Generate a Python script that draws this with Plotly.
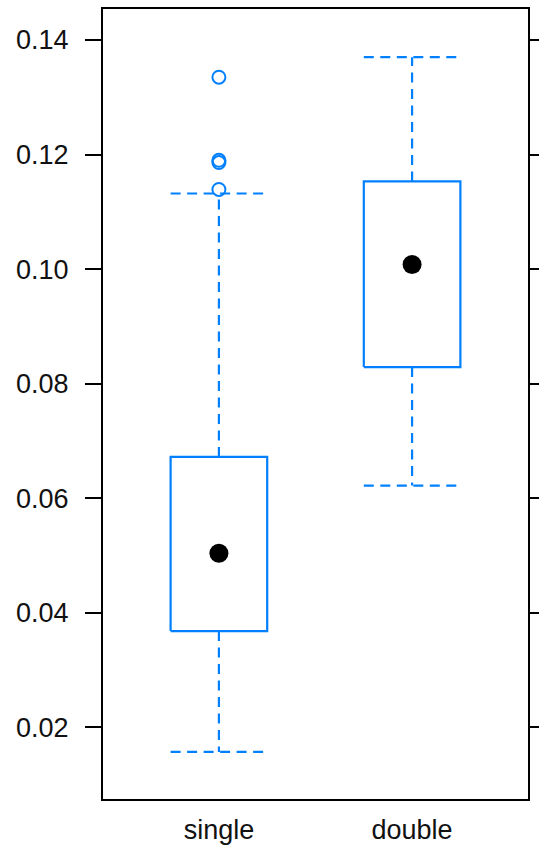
import plotly.graph_objects as go

# Summary statistics per group (box-and-whisker)
categories = ["single", "double"]
lower_whisker = [0.0157, 0.0622]
q1 = [0.0368, 0.0829]
median = [0.0504, 0.1008]
q3 = [0.0672, 0.1153]
upper_whisker = [0.1132, 0.1370]
outliers = {"single": [0.1139, 0.1186, 0.1190, 0.1335], "double": []}

y_ticks = [0.02, 0.04, 0.06, 0.08, 0.10, 0.12, 0.14]

BLUE = "#0080ff"
HALF_BOX = 0.25

fig = go.Figure()

for i, cat in enumerate(categories):
    c = i + 1
    # box outline
    fig.add_trace(go.Scatter(
        x=[c - HALF_BOX, c + HALF_BOX, c + HALF_BOX, c - HALF_BOX, c - HALF_BOX],
        y=[q1[i], q1[i], q3[i], q3[i], q1[i]],
        mode="lines", line=dict(color=BLUE, width=2.2),
        hoverinfo="skip", showlegend=False))
    # dashed whiskers with caps
    for a, b in ((q3[i], upper_whisker[i]), (q1[i], lower_whisker[i])):
        fig.add_trace(go.Scatter(
            x=[c, c], y=[a, b], mode="lines",
            line=dict(color=BLUE, width=2.2, dash="10px,6.5px"),
            hoverinfo="skip", showlegend=False))
        fig.add_trace(go.Scatter(
            x=[c - HALF_BOX, c + HALF_BOX], y=[b, b], mode="lines",
            line=dict(color=BLUE, width=2.2, dash="10px,6.5px"),
            hoverinfo="skip", showlegend=False))
    # outliers
    if outliers[cat]:
        fig.add_trace(go.Scatter(
            x=[c] * len(outliers[cat]), y=outliers[cat], mode="markers",
            marker=dict(symbol="circle-open", size=13, color=BLUE,
                        line=dict(width=2, color=BLUE)),
            showlegend=False))
    # median dot
    fig.add_trace(go.Scatter(
        x=[c], y=[median[i]], mode="markers",
        marker=dict(symbol="circle", size=19, color="black"),
        showlegend=False))

fig.update_layout(
    width=539, height=848,
    margin=dict(l=103, r=11, t=9, b=49, autoexpand=False),
    paper_bgcolor="white", plot_bgcolor="white",
    font=dict(family="Liberation Sans, Arial, sans-serif", size=27, color="#111"),
    xaxis=dict(
        range=[0.4, 2.6], tickvals=[1, 2], ticktext=categories,
        showgrid=False, zeroline=False, ticks="", automargin=False,
        showline=True, linecolor="black", linewidth=2, mirror=True,
        ticklabelstandoff=6),
    yaxis=dict(
        range=[0.00748, 0.14541], tickvals=y_ticks,
        ticktext=[f"{v:.2f}" for v in y_ticks],
        showgrid=False, zeroline=False, automargin=False,
        ticks="outside", ticklen=16, tickwidth=2, tickcolor="black",
        showline=True, linecolor="black", linewidth=2, mirror="ticks",
        ticklabelstandoff=11),
)

fig.write_html("out.html")
